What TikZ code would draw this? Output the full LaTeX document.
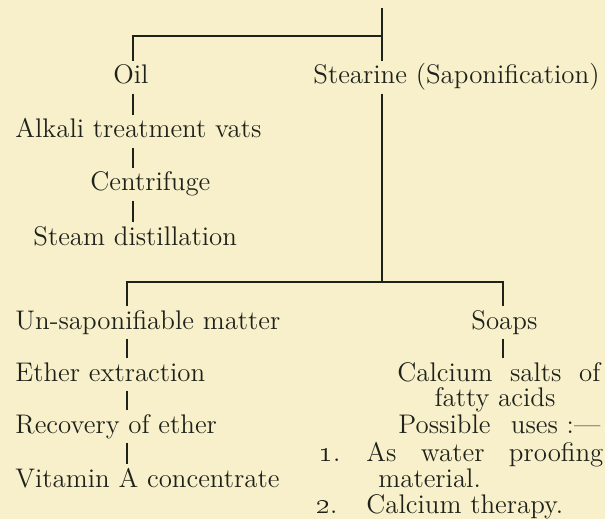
\documentclass[tikz,border=0pt]{standalone}
\usepackage{xcolor}
\usepackage{tikz}
\usetikzlibrary{calc}
\definecolor{paperyellow}{RGB}{248, 240, 203}
\definecolor{inkgreen}{RGB}{30, 34, 26}

\begin{document}
\begin{tikzpicture}[
    x=0.5pt, y=-0.5pt,
    txt/.style={anchor=base west, inner xsep=0pt, inner ysep=2pt, text height=9.2pt, text depth=2.6pt, text=inkgreen, font=\fontsize{13.45}{15}\selectfont},
    ctxt/.style={txt, anchor=base},
    link/.style={draw=inkgreen, line width=0.55pt}
]
% Page, same size as the scan
\useasboundingbox (0,0) rectangle (605,519);
\fill[paperyellow] (0,0) rectangle (605,519);

% Junctions and line columns
\coordinate (top) at (382, 8);
\coordinate (j1) at (382, 36);
\coordinate (j2) at (382, 282);
\coordinate (colA) at (133, 0);
\coordinate (colC) at (127, 0);
\coordinate (colD) at (503, 0);

% Upper half — oil branch on the left, stearine on the right
\node[txt] (oil) at (113, 84) {Oil};
\node[txt] (stearine) at (313, 84) {Stearine (Saponification)};
\node[txt] (alkali) at (15, 138) {Alkali treatment vats};
\node[txt] (centrifuge) at (90, 191) {Centrifuge};
\node[txt] (steam) at (33, 245) {Steam distillation};

% Lower half — left column
\node[txt] (unsap) at (15, 329) {Un-saponifiable matter};
\node[txt] (ether) at (15, 381) {Ether extraction};
\node[txt] (recovery) at (15, 433) {Recovery of ether};
\node[txt] (vitamin) at (15, 487) {Vitamin A concentrate};
% Lower half — right column (justified lines)
\node[txt] (soaps) at (471, 329) {Soaps};
\node[txt] (calcium) at (397, 381) {\hbox to 101.5pt{Calcium\hfill salts\hfill of}};
\node[ctxt] (fatty) at (495, 406) {fatty acids};
\node[txt] (uses) at (398, 433) {\hbox to 101pt{Possible\hfill uses :---}};
\node[txt] (item1) at (319, 461) {\makebox[23.5pt][l]{\oldstylenums{1}.}\hbox to 118.5pt{As\hfill water\hfill proofing}};
\node[txt] (material) at (378, 487) {material.};
\node[txt] (item2) at (316, 513) {\makebox[25pt][l]{\oldstylenums{2}.}Calcium therapy.};

% Top split
\draw[link] (top) -- (j1) -| (oil.north -| colA);
\draw[link] (j1) -- (stearine.north -| j1);
\draw[link] (stearine.south -| j1) -- (j2);
% Oil chain
\draw[link] (oil.south -| colA) -- (alkali.north -| colA);
\draw[link] (alkali.south -| colA) -- (centrifuge.north -| colA);
\draw[link] (centrifuge.south -| colA) -- (steam.north -| colA);
% Lower split
\draw[link] (unsap.north -| colC) |- (j2) -| (soaps.north -| colD);
\draw[link] (unsap.south -| colC) -- (ether.north -| colC);
\draw[link] (ether.south -| colC) -- (recovery.north -| colC);
\draw[link] (recovery.south -| colC) -- (vitamin.north -| colC);
\draw[link] (soaps.south -| colD) -- (calcium.north -| colD);

\end{tikzpicture}
\end{document}
